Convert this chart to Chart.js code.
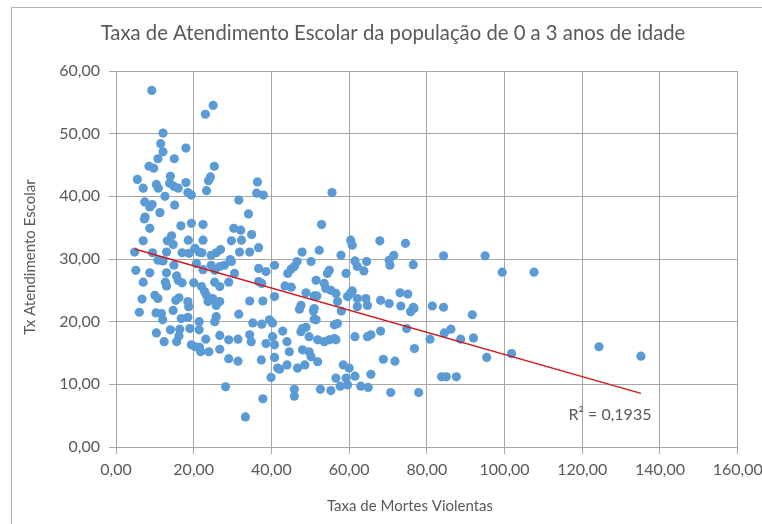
<!DOCTYPE html>
<html>
<head>
<meta charset="utf-8">
<script src="https://cdn.jsdelivr.net/npm/chart.js@4.4.1/dist/chart.umd.min.js"></script>
<style>
  html, body { margin:0; padding:0; background:#fff; overflow:hidden; }
  #wrap { position:relative; width:762px; height:524px; }
  #moldura { position:absolute; left:11px; top:7px; width:800px; height:600px; border:1px solid #b4b4b4; pointer-events:none; }
</style>
</head>
<body>
<div id="wrap">
  <canvas id="graf" width="762" height="524"></canvas>
  <div id="moldura"></div>
</div>
<script>
// Taxa de Mortes Violentas (x) x Tx Atendimento Escolar 0-3 anos (y)
const PONTOS = [
  [9.2,56.9],[25.0,54.5],[23.0,53.1],[12.1,50.1],[11.5,48.4],[12.1,47.1],[18.0,47.7],[10.8,46.0],[15.0,46.0],
  [8.5,44.8],[9.7,44.5],[25.3,44.8],[24.3,43.1],[23.8,42.5],[5.5,42.7],[7.0,41.3],[14.0,43.2],[10.4,41.9],
  [10.9,41.3],[13.8,42.1],[14.9,41.6],[16.0,41.3],[18.0,42.2],[23.3,40.9],[36.4,42.3],[36.2,40.5],[37.9,40.2],
  [12.6,40.0],[18.5,40.6],[19.4,40.2],[7.4,39.1],[8.7,38.3],[9.3,38.7],[15.1,38.6],[31.6,39.4],[7.5,36.7],
  [7.3,36.4],[11.3,37.4],[34.1,37.2],[8.7,34.9],[16.7,35.3],[19.4,35.7],[22.4,35.5],[30.3,34.9],[32.1,34.6],
  [34.9,33.9],[7.0,32.9],[14.3,33.7],[13.2,32.9],[14.7,32.3],[18.6,33.0],[22.4,33.0],[29.7,32.9],[32.3,33.0],
  [36.7,31.8],[4.8,31.1],[9.4,31.0],[13.0,31.1],[17.0,31.0],[18.8,30.9],[20.3,31.7],[21.4,31.1],[22.1,31.0],
  [24.5,30.6],[25.8,31.0],[26.9,31.5],[29.4,29.9],[31.8,31.1],[34.4,31.1],
  [5.1,28.2],[8.7,27.8],[10.8,29.8],[12.1,29.7],[14.9,29.0],[7.0,26.3],[13.0,27.8],[15.6,27.3],[16.0,26.6],
  [17.0,26.2],[12.7,26.3],[13.0,25.7],[20.0,26.2],[20.7,29.3],[22.4,28.3],[24.5,29.0],[25.4,28.2],[26.7,28.8],
  [27.9,29.0],[29.7,29.6],[30.5,27.7],[25.4,26.3],[26.7,25.6],[29.0,26.3],[22.0,25.6],[22.8,24.8],[23.3,24.2],
  [36.7,28.5],[38.6,28.0],[40.8,29.0],[36.7,26.4],[37.5,26.1],[6.7,23.6],[6.0,21.5],[10.0,24.2],[10.8,23.7],
  [10.3,21.4],[11.7,21.3],[12.0,20.3],[14.7,21.8],[15.4,23.4],[16.2,23.8],[18.5,23.2],[18.7,22.4],[16.8,20.5],
  [18.5,20.7],[23.7,23.2],[24.9,23.7],[25.8,22.6],[26.7,23.2],[25.8,20.8],[25.4,20.0],[21.4,20.0],[21.4,18.7],
  [19.0,18.9],[10.4,18.2],[12.4,16.8],[14.0,18.7],[16.4,18.8],[16.2,17.7],[15.6,16.8],[19.4,16.3],[20.4,16.0],
  [21.5,15.9],[21.8,15.2],[23.9,15.2],[23.1,17.2],[26.7,17.8],[26.7,15.6],[29.0,17.1],[31.4,17.2],[31.6,21.2],
  [34.4,23.3],[37.8,23.3],[35.2,19.8],[37.5,19.6],[39.5,20.3],[40.3,19.8],[34.4,17.9],[34.8,16.8],[38.6,16.5],
  [40.3,17.6],[40.8,16.3],[29.0,14.1],[31.4,13.7],[37.4,13.9],[40.8,14.3],[41.6,12.6],[39.9,11.1],[28.2,9.6],
  [37.8,7.7],[33.3,4.8],
  [55.6,40.6],[52.9,35.5],[60.4,33.0],[60.8,32.2],[67.9,32.9],[74.5,32.5],[47.9,31.1],[52.3,31.4],[57.9,30.6],
  [50.2,29.6],[46.6,29.6],[45.9,28.8],[45.1,28.4],[44.2,27.7],[61.5,29.7],[62.1,28.8],[63.8,28.1],[64.5,29.6],
  [70.3,29.8],[71.5,30.6],[70.5,29.0],[76.5,29.1],[54.9,28.2],[54.4,27.7],[59.2,27.7],[51.5,26.6],[53.6,26.1],
  [54.0,25.3],[55.3,25.0],[56.6,24.5],[43.5,25.7],[45.1,25.5],[48.9,24.6],[51.0,24.1],[51.7,24.1],[40.8,24.0],
  [60.3,24.5],[60.8,24.9],[59.6,24.0],[62.1,23.7],[64.3,23.7],[68.1,23.4],[70.3,22.9],[73.1,24.6],[75.1,24.4],
  [73.3,22.5],[76.5,22.3],[81.4,22.5],[84.3,22.3],[47.6,22.6],[51.0,22.1],[57.0,23.2],[62.1,22.4],[64.7,22.6],
  [47.2,22.0],[50.8,21.7],[51.0,20.4],[51.5,20.3],[58.0,21.7],[75.8,21.6],[76.7,22.1],[56.2,19.5],[57.0,19.7],
  [48.0,18.9],[47.6,18.4],[48.9,19.1],[42.9,18.5],[44.0,16.8],[49.7,17.6],[51.9,17.1],[53.6,16.8],[54.9,17.1],
  [56.2,17.3],[56.6,17.1],[61.5,17.6],[64.7,17.6],[65.6,17.9],[68.1,18.5],[74.8,18.9],[80.8,17.2],[76.8,15.7],
  [44.6,15.2],[48.0,15.5],[49.7,15.2],[50.2,14.4],[51.9,13.6],[46.7,12.6],[48.6,13.1],[44.0,13.1],[42.1,12.4],
  [68.8,14.0],[71.8,13.7],[58.5,13.1],[60.0,12.6],[56.6,11.0],[59.2,11.0],[61.5,11.3],[65.6,11.6],[45.9,9.2],
  [45.9,8.1],[52.6,9.2],[55.3,9.0],[57.7,9.7],[59.6,9.9],[63.0,9.7],[64.9,9.5],[70.7,8.7],[77.9,8.7],
  [84.3,30.5],[95.0,30.5],[99.4,27.9],[107.6,27.9],[91.7,21.1],[84.5,18.2],[86.2,18.8],[88.7,17.2],[92.0,17.4],
  [95.4,14.3],[101.8,14.9],[124.3,16.0],[83.8,11.2],[85.0,11.2],[87.6,11.2],[135.1,14.5]
];

// linha de tendência linear (extremos)
const TEND_X = [4.8, 135.1];
const TEND_Y = [31.6, 8.56];
const R2 = '0,1935';

const TITULO = 'Taxa de Atendimento Escolar da população de 0 a 3 anos de idade';
const TITULO_X = 'Taxa de Mortes Violentas';
const TITULO_Y = 'Tx Atendimento Escolar';

const COR_TEXTO = '#595959';
const COR_GRADE = '#a6a6a6';
const fmt = v => v.toFixed(2).replace('.', ',');

Chart.defaults.font.family = 'Lato, "Open Sans", sans-serif';
Chart.defaults.color = COR_TEXTO;

const textos = {
  id: 'textos',
  afterDraw(chart){
    const g = chart.ctx;
    g.save();
    g.fillStyle = COR_TEXTO;
    g.textAlign = 'center';
    g.textBaseline = 'middle';
    g.font = '20.3px Lato';
    g.fillText(TITULO, 393, 33);
    g.font = '15px Lato';
    g.fillText(TITULO_X, 410, 506);
    g.font = '16px Lato';
    g.fillText('R² = ' + R2, 610, 415);
    g.font = '15px Lato';
    g.translate(30, 257);
    g.rotate(-Math.PI/2);
    g.fillText(TITULO_Y, 0, 0);
    g.restore();
  }
};

new Chart(document.getElementById('graf'), {
  type: 'scatter',
  data: {
    datasets: [
      {
        data: TEND_X.map((x,i)=>({x, y:TEND_Y[i]})),
        showLine: true,
        borderColor: '#d0191c',
        borderWidth: 1.5,
        pointRadius: 0,
      },
      {
        data: PONTOS.map(p=>({x:p[0], y:p[1]})),
        pointRadius: 4.6,
        pointBorderWidth: 0,
        backgroundColor: '#5b9bd5',
      }
    ]
  },
  options: {
    responsive: false,
    animation: false,
    layout: { padding: { left:0, top:71, right:24.3, bottom:0 } },
    plugins: { legend:{display:false}, tooltip:{enabled:false}, title:{display:false} },
    scales: {
      x: {
        min: 0, max: 160,
        ticks: { stepSize: 20, callback: fmt, font:{size:16}, padding: 6, maxRotation: 0 },
        grid: { color: COR_GRADE, tickColor: COR_GRADE, tickLength: 7, lineWidth: 1 },
        border: { color: COR_GRADE },
        afterFit: s => { s.height = 77; s.paddingLeft = 0; s.paddingRight = 0; }
      },
      y: {
        min: 0, max: 60,
        ticks: { stepSize: 10, callback: fmt, font:{size:16}, padding: 9 },
        grid: { color: COR_GRADE, tickColor: COR_GRADE, tickLength: 7, lineWidth: 1 },
        border: { color: COR_GRADE },
        afterFit: s => { s.width = 116; s.paddingTop = 0; s.paddingBottom = 0; }
      }
    }
  },
  plugins: [textos]
});
</script>
</body>
</html>
